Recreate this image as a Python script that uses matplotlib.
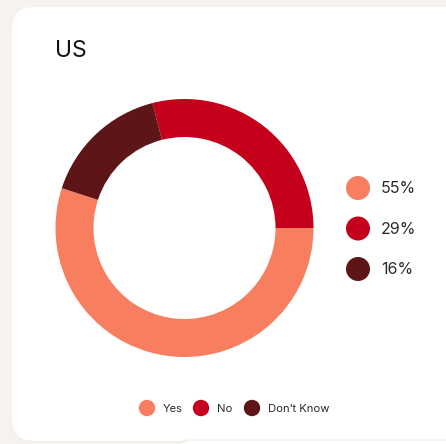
import matplotlib.pyplot as plt
from matplotlib.patches import FancyBboxPatch, Circle

plt.rcParams["font.family"] = ["Inter", "DejaVu Sans"]

title = "US"
labels = ["Yes", "No", "Don\u2019t Know"]
values = [55, 29, 16]
colors = ["#F87E60", "#C5001A", "#5E1517"]

W, H = 446, 444
fig = plt.figure(figsize=(W / 100, H / 100), dpi=100)
fig.patch.set_facecolor("#F6F2EE")

# background layer in pixel units (y grows downward)
bg = fig.add_axes([0, 0, 1, 1])
bg.set_xlim(0, W)
bg.set_ylim(H, 0)
bg.axis("off")

# faint card shadows, then the cards themselves
for dy, a in [(2, 0.05), (1, 0.05)]:
    bg.add_patch(FancyBboxPatch((12, 7 + dy), 470, 434,
                                boxstyle="round,pad=0,rounding_size=22",
                                fc="#D9D2CC", ec="none", alpha=a))
bg.add_patch(FancyBboxPatch((12, 7), 470, 434,
                            boxstyle="round,pad=0,rounding_size=22",
                            fc="white", ec="none"))
bg.add_patch(FancyBboxPatch((171, 439), 300, 40,
                            boxstyle="round,pad=0,rounding_size=22",
                            fc="#EDE8E4", ec="none", alpha=0.5))
bg.add_patch(FancyBboxPatch((171, 441), 300, 40,
                            boxstyle="round,pad=0,rounding_size=22",
                            fc="white", ec="none"))

bg.text(55, 51, title, fontsize=16.5, color="#111111", va="center", ha="left")

# percentage list on the right
total = sum(values)
for i, (v, c) in enumerate(zip(values, colors)):
    y = 188 + i * 40.5
    bg.add_patch(Circle((358, y), 12, fc=c, ec="none"))
    bg.text(381, y + 0.5, f"{round(100 * v / total)}%", fontsize=11.5,
            color="#2B2B2B", va="center", ha="left")

# bottom legend
leg_x = [147, 201, 252]
for x, lab, c in zip(leg_x, labels, colors):
    bg.add_patch(Circle((x, 408), 8.2, fc=c, ec="none"))
    bg.text(x + 16, 408.5, lab, fontsize=8.1, color="#2B2B2B",
            va="center", ha="left")

# donut
cx, cy, r = 184.5, 228, 129
ax = fig.add_axes([(cx - r) / W, (H - cy - r) / H, 2 * r / W, 2 * r / H])
ax.pie(values, colors=colors, startangle=360 * (1 - values[0] / total),
       counterclock=True, radius=1,
       wedgeprops=dict(width=38 / r, edgecolor="none", linewidth=0))
ax.set_xlim(-1, 1)
ax.set_ylim(-1, 1)
ax.set_aspect("equal")
ax.axis("off")

fig.savefig("out.png", dpi=100, facecolor=fig.get_facecolor())
